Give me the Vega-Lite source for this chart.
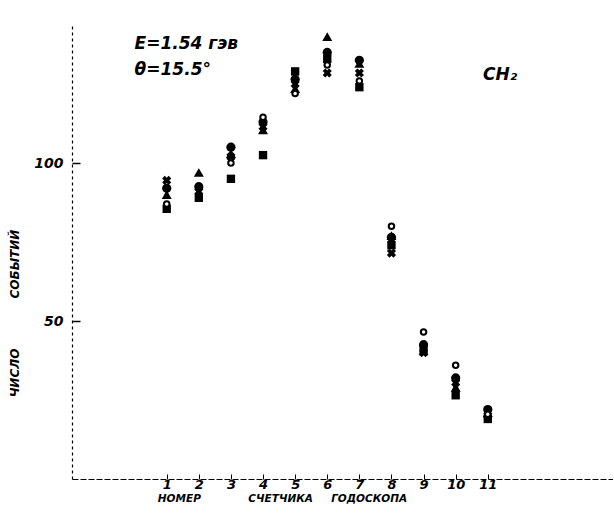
{
  "$schema": "https://vega.github.io/schema/vega-lite/v6.json",
  "width": 541,
  "height": 455,
  "autosize": {"type": "none"},
  "padding": {"left": 72, "top": 24, "right": 0, "bottom": 47},
  "background": "white",
  "config": {
    "view": {"stroke": null},
    "font": "DejaVu Sans",
    "axis": {"grid": false}
  },
  "datasets": {
    "points": [
      {"counter": 1, "n": 90, "marker": "tri"}, {"counter": 1, "n": 92, "marker": "fcirc"}, {"counter": 1, "n": 87, "marker": "ocirc"}, {"counter": 1, "n": 85.5, "marker": "sq"}, {"counter": 1, "n": 94.5, "marker": "cross"},
      {"counter": 2, "n": 97, "marker": "tri"}, {"counter": 2, "n": 92.5, "marker": "fcirc"}, {"counter": 2, "n": 89, "marker": "sq"}, {"counter": 2, "n": 91, "marker": "cross"},
      {"counter": 3, "n": 103, "marker": "tri"}, {"counter": 3, "n": 105, "marker": "fcirc"}, {"counter": 3, "n": 100, "marker": "ocirc"}, {"counter": 3, "n": 95, "marker": "sq"}, {"counter": 3, "n": 102, "marker": "cross"},
      {"counter": 4, "n": 110.5, "marker": "tri"}, {"counter": 4, "n": 113, "marker": "fcirc"}, {"counter": 4, "n": 114.5, "marker": "ocirc"}, {"counter": 4, "n": 102.5, "marker": "sq"}, {"counter": 4, "n": 111.5, "marker": "cross"},
      {"counter": 5, "n": 123.5, "marker": "tri"}, {"counter": 5, "n": 126.5, "marker": "fcirc"}, {"counter": 5, "n": 122, "marker": "ocirc"}, {"counter": 5, "n": 129, "marker": "sq"}, {"counter": 5, "n": 125, "marker": "cross"},
      {"counter": 6, "n": 140, "marker": "tri"}, {"counter": 6, "n": 135, "marker": "fcirc"}, {"counter": 6, "n": 131, "marker": "ocirc"}, {"counter": 6, "n": 133, "marker": "sq"}, {"counter": 6, "n": 128.5, "marker": "cross"},
      {"counter": 7, "n": 131.5, "marker": "tri"}, {"counter": 7, "n": 132.5, "marker": "fcirc"}, {"counter": 7, "n": 126, "marker": "ocirc"}, {"counter": 7, "n": 124, "marker": "sq"}, {"counter": 7, "n": 128.5, "marker": "cross"},
      {"counter": 8, "n": 77, "marker": "tri"}, {"counter": 8, "n": 76.5, "marker": "fcirc"}, {"counter": 8, "n": 80, "marker": "ocirc"}, {"counter": 8, "n": 74, "marker": "sq"}, {"counter": 8, "n": 71.5, "marker": "cross"},
      {"counter": 9, "n": 40.5, "marker": "tri"}, {"counter": 9, "n": 42.5, "marker": "fcirc"}, {"counter": 9, "n": 46.5, "marker": "ocirc"}, {"counter": 9, "n": 41, "marker": "sq"}, {"counter": 9, "n": 40, "marker": "cross"},
      {"counter": 10, "n": 29, "marker": "tri"}, {"counter": 10, "n": 32, "marker": "fcirc"}, {"counter": 10, "n": 36, "marker": "ocirc"}, {"counter": 10, "n": 26.5, "marker": "sq"}, {"counter": 10, "n": 30.5, "marker": "cross"},
      {"counter": 11, "n": 21, "marker": "tri"}, {"counter": 11, "n": 22, "marker": "fcirc"}, {"counter": 11, "n": 20.5, "marker": "ocirc"}, {"counter": 11, "n": 19, "marker": "sq"}, {"counter": 11, "n": 20, "marker": "cross"}
    ],
    "notes": [
      {"label": "E=1.54 гэв", "counter": 0, "n": 136},
      {"label": "θ=15.5°", "counter": 0, "n": 128},
      {"label": "CH₂", "counter": 10.85, "n": 126.3}
    ]
  },
  "encoding": {
    "x": {
      "field": "counter", "type": "quantitative",
      "scale": {"domain": [-1.95, 14.9], "nice": false, "zero": false},
      "axis": {
        "values": [1, 2, 3, 4, 5, 6, 7, 8, 9, 10, 11],
        "title": "НОМЕР\u00a0\u00a0\u00a0\u00a0\u00a0\u00a0\u00a0\u00a0\u00a0\u00a0\u00a0\u00a0\u00a0СЧЕТЧИКА\u00a0\u00a0\u00a0\u00a0\u00a0ГОДОСКОПА",
        "titleFont": "DejaVu Sans", "titleFontStyle": "italic", "titleFontWeight": "bold", "titleFontSize": 10.5,
        "titleColor": "black", "titlePadding": 2, "titleX": 210,
        "labelFont": "DejaVu Sans", "labelFontStyle": "italic", "labelFontWeight": "bold", "labelFontSize": 13,
        "labelColor": "black", "labelPadding": 4,
        "tickSize": -5, "tickColor": "black", "domainColor": "black", "domainDash": [6, 2], "domainWidth": 1.2
      }
    },
    "y": {
      "field": "n", "type": "quantitative",
      "scale": {"domain": [0, 144], "nice": false},
      "axis": {
        "values": [50, 100],
        "title": "ЧИСЛО\u00a0\u00a0\u00a0\u00a0\u00a0\u00a0\u00a0\u00a0\u00a0\u00a0\u00a0\u00a0СОБЫТИЙ",
        "titleFont": "DejaVu Sans", "titleFontStyle": "italic", "titleFontWeight": "bold", "titleFontSize": 12,
        "titleColor": "black", "titleX": -51, "titleY": 289, "titleAnchor": "middle",
        "labelFont": "DejaVu Sans", "labelFontStyle": "italic", "labelFontWeight": "bold", "labelFontSize": 14,
        "labelColor": "black", "labelPadding": 17,
        "tickSize": -8, "tickColor": "black", "tickWidth": 1.5, "domainColor": "black", "domainDash": [3, 3], "domainWidth": 1.2
      }
    }
  },
  "layer": [
    {
      "data": {"name": "points"},
      "transform": [{"filter": "datum.marker === 'tri'"}],
      "mark": {"type": "point", "shape": "triangle-up", "filled": true, "color": "black", "size": 100, "opacity": 1}
    },
    {
      "data": {"name": "points"},
      "transform": [{"filter": "datum.marker === 'fcirc'"}],
      "mark": {"type": "point", "shape": "circle", "filled": true, "color": "black", "size": 85, "opacity": 1}
    },
    {
      "data": {"name": "points"},
      "transform": [{"filter": "datum.marker === 'sq'"}],
      "mark": {"type": "point", "shape": "square", "filled": true, "color": "black", "size": 70, "opacity": 1}
    },
    {
      "data": {"name": "points"},
      "transform": [{"filter": "datum.marker === 'cross'"}],
      "mark": {"type": "point", "shape": "cross", "angle": 45, "filled": true, "color": "black", "size": 85, "opacity": 1}
    },
    {
      "data": {"name": "points"},
      "transform": [{"filter": "datum.marker === 'ocirc'"}],
      "mark": {"type": "point", "shape": "circle", "filled": false, "color": "black", "fill": "white", "strokeWidth": 2, "size": 30, "opacity": 1}
    },
    {
      "data": {"name": "notes"},
      "mark": {"type": "text", "align": "left", "baseline": "alphabetic", "font": "DejaVu Sans", "fontStyle": "italic", "fontWeight": "bold", "fontSize": 17, "color": "black"},
      "encoding": {"text": {"field": "label"}}
    }
  ]
}
